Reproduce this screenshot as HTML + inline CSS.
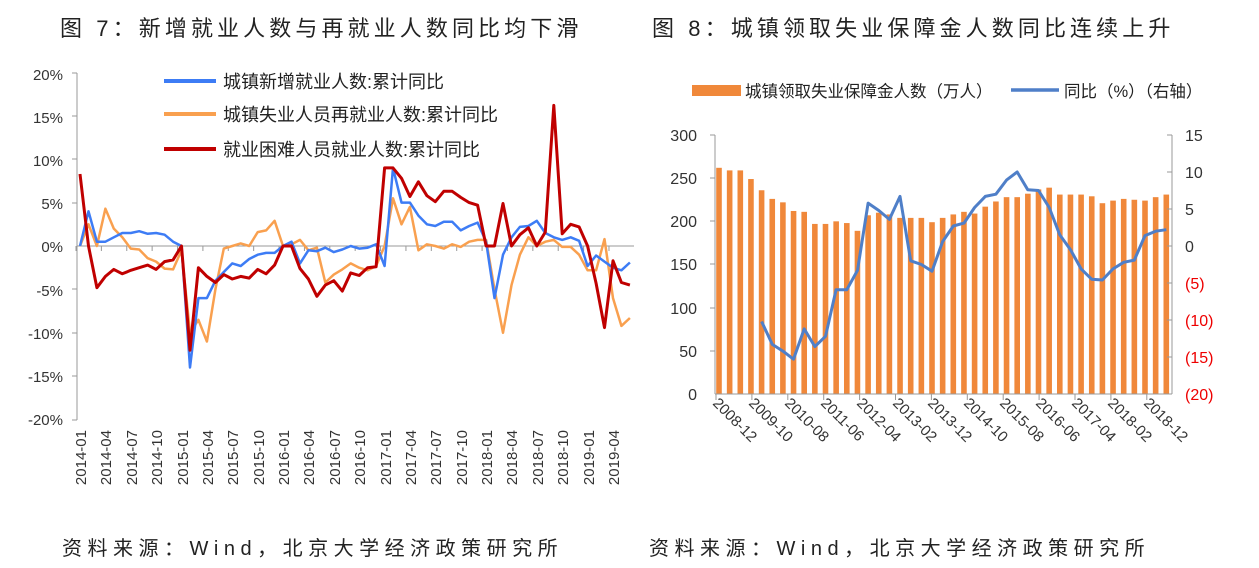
<!DOCTYPE html>
<html><head><meta charset="utf-8"><style>
body{margin:0;background:#fff;width:1259px;height:568px;overflow:hidden;font-family:"Liberation Sans","Noto Sans CJK SC",sans-serif}
svg{position:absolute;left:0;top:0}
</style></head><body>
<svg width="1259" height="568" viewBox="0 0 1259 568" font-family="Liberation Sans, Noto Sans CJK SC, sans-serif">
<text x="60" y="36" font-size="22" letter-spacing="4.1" fill="#222">图 7：新增就业人数与再就业人数同比均下滑</text>
<text x="652" y="36" font-size="22" letter-spacing="4.1" fill="#222">图 8：城镇领取失业保障金人数同比连续上升</text>
<text x="62" y="555" font-size="20" letter-spacing="5.5" fill="#222">资料来源：Wind，北京大学经济政策研究所</text>
<text x="649" y="555" font-size="20" letter-spacing="5.5" fill="#222">资料来源：Wind，北京大学经济政策研究所</text>

<!-- LEFT CHART -->
<g font-size="15" fill="#333" text-anchor="end">
<text x="63" y="80">20%</text><text x="63" y="123">15%</text><text x="63" y="166">10%</text><text x="63" y="209">5%</text><text x="63" y="252">0%</text><text x="63" y="296">-5%</text><text x="63" y="339">-10%</text><text x="63" y="382">-15%</text><text x="63" y="425">-20%</text>
</g>
<line x1="77" y1="73" x2="77" y2="420" stroke="#999"/>
<g stroke="#999"><line x1="72" y1="73" x2="77" y2="73"/><line x1="72" y1="116" x2="77" y2="116"/><line x1="72" y1="159" x2="77" y2="159"/><line x1="72" y1="203" x2="77" y2="203"/><line x1="72" y1="289" x2="77" y2="289"/><line x1="72" y1="333" x2="77" y2="333"/><line x1="72" y1="376" x2="77" y2="376"/><line x1="72" y1="420" x2="77" y2="420"/></g>
<line x1="77" y1="246" x2="634" y2="246" stroke="#999"/>
<g id="lticks" stroke="#999"></g>
<g id="lxl" font-size="15" fill="#333" text-anchor="end">
<text transform="translate(86,430) rotate(-90)">2014-01</text>
<text transform="translate(111,430) rotate(-90)">2014-04</text>
<text transform="translate(137,430) rotate(-90)">2014-07</text>
<text transform="translate(162,430) rotate(-90)">2014-10</text>
<text transform="translate(188,430) rotate(-90)">2015-01</text>
<text transform="translate(213,430) rotate(-90)">2015-04</text>
<text transform="translate(238,430) rotate(-90)">2015-07</text>
<text transform="translate(264,430) rotate(-90)">2015-10</text>
<text transform="translate(289,430) rotate(-90)">2016-01</text>
<text transform="translate(314,430) rotate(-90)">2016-04</text>
<text transform="translate(340,430) rotate(-90)">2016-07</text>
<text transform="translate(365,430) rotate(-90)">2016-10</text>
<text transform="translate(391,430) rotate(-90)">2017-01</text>
<text transform="translate(416,430) rotate(-90)">2017-04</text>
<text transform="translate(441,430) rotate(-90)">2017-07</text>
<text transform="translate(467,430) rotate(-90)">2017-10</text>
<text transform="translate(492,430) rotate(-90)">2018-01</text>
<text transform="translate(517,430) rotate(-90)">2018-04</text>
<text transform="translate(543,430) rotate(-90)">2018-07</text>
<text transform="translate(568,430) rotate(-90)">2018-10</text>
<text transform="translate(594,430) rotate(-90)">2019-01</text>
<text transform="translate(619,430) rotate(-90)">2019-04</text>
</g>
<polyline id="lo" fill="none" stroke="#F9A04F" stroke-width="2.5" stroke-linejoin="round"/>
<polyline id="lb" fill="none" stroke="#3D7CF5" stroke-width="2.5" stroke-linejoin="round"/>
<polyline id="lr" fill="none" stroke="#C00000" stroke-width="3" stroke-linejoin="round"/>
<line x1="164" y1="81" x2="216" y2="81" stroke="#3D7CF5" stroke-width="4"/>
<line x1="164" y1="114" x2="216" y2="114" stroke="#F9A04F" stroke-width="4"/>
<line x1="164" y1="149" x2="216" y2="149" stroke="#C00000" stroke-width="4"/>
<g font-size="18" fill="#222">
<text x="223" y="88">城镇新增就业人数:累计同比</text>
<text x="223" y="121">城镇失业人员再就业人数:累计同比</text>
<text x="223" y="156">就业困难人员就业人数:累计同比</text>
</g>

<!-- RIGHT CHART -->
<rect x="692" y="85" width="49" height="11" fill="#F0883A"/>
<text x="745" y="97" font-size="16.5" fill="#222">城镇领取失业保障金人数（万人）</text>
<line x1="1011" y1="90" x2="1059" y2="90" stroke="#4F7FC8" stroke-width="3.5"/>
<text x="1064" y="97" font-size="16.5" fill="#222">同比（%）（右轴）</text>
<g font-size="16" fill="#333" text-anchor="end">
<text x="697" y="141">300</text><text x="697" y="184">250</text><text x="697" y="227">200</text><text x="697" y="270">150</text><text x="697" y="314">100</text><text x="697" y="357">50</text><text x="697" y="400">0</text>
</g>
<g font-size="16" text-anchor="start">
<text x="1185" y="141" fill="#333">15</text><text x="1185" y="178" fill="#333">10</text><text x="1185" y="215" fill="#333">5</text><text x="1185" y="252" fill="#333">0</text>
<text x="1185" y="289" fill="#E00">(5)</text><text x="1185" y="326" fill="#E00">(10)</text><text x="1185" y="363" fill="#E00">(15)</text><text x="1185" y="400" fill="#E00">(20)</text>
</g>
<g id="bars" fill="#F0883A"></g>
<line x1="715" y1="135" x2="715" y2="394" stroke="#999"/>
<line x1="1172" y1="135" x2="1172" y2="394" stroke="#999"/>
<line x1="715" y1="394" x2="1172" y2="394" stroke="#999"/>
<g stroke="#999">
<line x1="710" y1="135" x2="715" y2="135"/><line x1="710" y1="178" x2="715" y2="178"/><line x1="710" y1="221" x2="715" y2="221"/><line x1="710" y1="264" x2="715" y2="264"/><line x1="710" y1="308" x2="715" y2="308"/><line x1="710" y1="351" x2="715" y2="351"/>
<line x1="1167" y1="135" x2="1172" y2="135"/><line x1="1167" y1="172" x2="1172" y2="172"/><line x1="1167" y1="209" x2="1172" y2="209"/><line x1="1167" y1="246" x2="1172" y2="246"/><line x1="1167" y1="283" x2="1172" y2="283"/><line x1="1167" y1="320" x2="1172" y2="320"/><line x1="1167" y1="357" x2="1172" y2="357"/>
</g>
<g id="rticks" stroke="#999"></g>
<polyline id="rl" fill="none" stroke="#4F7FC8" stroke-width="3" stroke-linejoin="round"/>
<g font-size="15" fill="#333">
<text transform="translate(712,404) rotate(45)">2008-12</text>
<text transform="translate(748,404) rotate(45)">2009-10</text>
<text transform="translate(784,404) rotate(45)">2010-08</text>
<text transform="translate(820,404) rotate(45)">2011-06</text>
<text transform="translate(856,404) rotate(45)">2012-04</text>
<text transform="translate(892,404) rotate(45)">2013-02</text>
<text transform="translate(927,404) rotate(45)">2013-12</text>
<text transform="translate(963,404) rotate(45)">2014-10</text>
<text transform="translate(999,404) rotate(45)">2015-08</text>
<text transform="translate(1035,404) rotate(45)">2016-06</text>
<text transform="translate(1071,404) rotate(45)">2017-04</text>
<text transform="translate(1107,404) rotate(45)">2018-02</text>
<text transform="translate(1143,404) rotate(45)">2018-12</text>
</g>
</svg>
<script>
var NS="http://www.w3.org/2000/svg";
function lx(i){return 80+i*8.46}
function ly(v){return 246-v*8.68}
function pts(a){return a.map(function(v,i){return lx(i).toFixed(1)+","+ly(v).toFixed(1)}).join(" ")}
var blue=[0,4,0.5,0.5,1,1.5,1.5,1.7,1.4,1.5,1.3,0.5, 0,-14,-6,-6,-4,-3,-2,-2.3,-1.5,-1,-0.8,-0.8, 0,0.5,-2,-0.5,-0.6,-0.2,-0.7,-0.4,0,-0.3,-0.2,0.2, -2.3,9,5,5,3.5,2.5,2.3,2.8,2.8,1.8,2.3,2.7, 0.5,-6,-1,1,2.2,2.3,2.9,1.5,1,0.7,1,0.6, -2.3,-1.1,-1.8,-2.5,-2.8,-1.9];
var orng=[0,2.5,0,4.3,2,1,-0.3,-0.4,-1.4,-1.8,-2.6,-2.7, -0.5,-10,-8.5,-11,-5,-0.3,0,0.3,0,1.6,1.8,2.9, 0,0.2,0.7,-0.5,-0.2,-4.2,-3.3,-2.7,-2,-2.5,-2.8,-2.3, 0,5.5,2.5,4.5,-0.5,0.2,0,-0.3,0.2,-0.1,0.5,0.7, 0.7,-5,-10,-4.5,-1,1,0,0.5,0.7,-0.1,-0.1,-1, -2.8,-2.8,0.8,-6,-9.2,-8.3];
var red=[8.3,0,-4.8,-3.5,-2.7,-3.2,-2.8,-2.5,-2.2,-2.7,-1.8,-1.6, 0,-12,-2.5,-3.5,-4.2,-3.3,-3.8,-3.5,-3.7,-2.7,-3.2,-2.2, 0,0,-2.6,-3.8,-5.8,-4.5,-4,-5.2,-3.1,-3.4,-2.5,-2.4, 9,9,7.8,5.7,7.4,5.8,5.1,6.3,6.3,5.6,5,4.7, 0,0,4.9,0,1.3,2.1,0,1.6,16.2,1.4,2.5,2.2, 0,-4.3,-9.4,-1.7,-4.2,-4.5];
document.getElementById("lb").setAttribute("points",pts(blue));
document.getElementById("lo").setAttribute("points",pts(orng));
document.getElementById("lr").setAttribute("points",pts(red));
var lt=document.getElementById("lticks");
for(var i=0;i<66;i+=3){var l=document.createElementNS(NS,"line");var x=lx(i)-4;l.setAttribute("x1",x);l.setAttribute("x2",x);l.setAttribute("y1",246);l.setAttribute("y2",251);lt.appendChild(l);}
var bars=[262,259,259,249,236,226,222,212,211,197,197,200,198,189,207,210,208,204,204,204,199,204,208,211,209,217,223,228,228,232,237,239,231,231,231,229,221,224,226,225,224,228,231];
var bg=document.getElementById("bars");
function bx(i){return 719+i*10.65}
bars.forEach(function(v,i){var r=document.createElementNS(NS,"rect");var h=v*259/300;r.setAttribute("x",bx(i)-2.8);r.setAttribute("width",5.6);r.setAttribute("y",394-h);r.setAttribute("height",h);bg.appendChild(r);});
var line=[-10.2,-13.3,-14.2,-15.3,-11.2,-13.6,-12.2,-5.9,-5.9,-3.3,5.8,4.8,3.6,6.7,-2,-2.5,-3.4,0.6,2.7,3.1,5.2,6.7,7,8.9,10,7.6,7.5,5.2,1.5,-0.5,-3.1,-4.5,-4.6,-3.1,-2.2,-1.9,1.4,2,2.2];
document.getElementById("rl").setAttribute("points",line.map(function(v,k){return bx(k+4).toFixed(1)+","+(246-v*7.4).toFixed(1)}).join(" "));
var rt=document.getElementById("rticks");
for(var k=0;k<13;k++){var l=document.createElementNS(NS,"line");var x=716+k*35.9;l.setAttribute("x1",x);l.setAttribute("x2",x);l.setAttribute("y1",394);l.setAttribute("y2",400);rt.appendChild(l);}
</script>
</body></html>
